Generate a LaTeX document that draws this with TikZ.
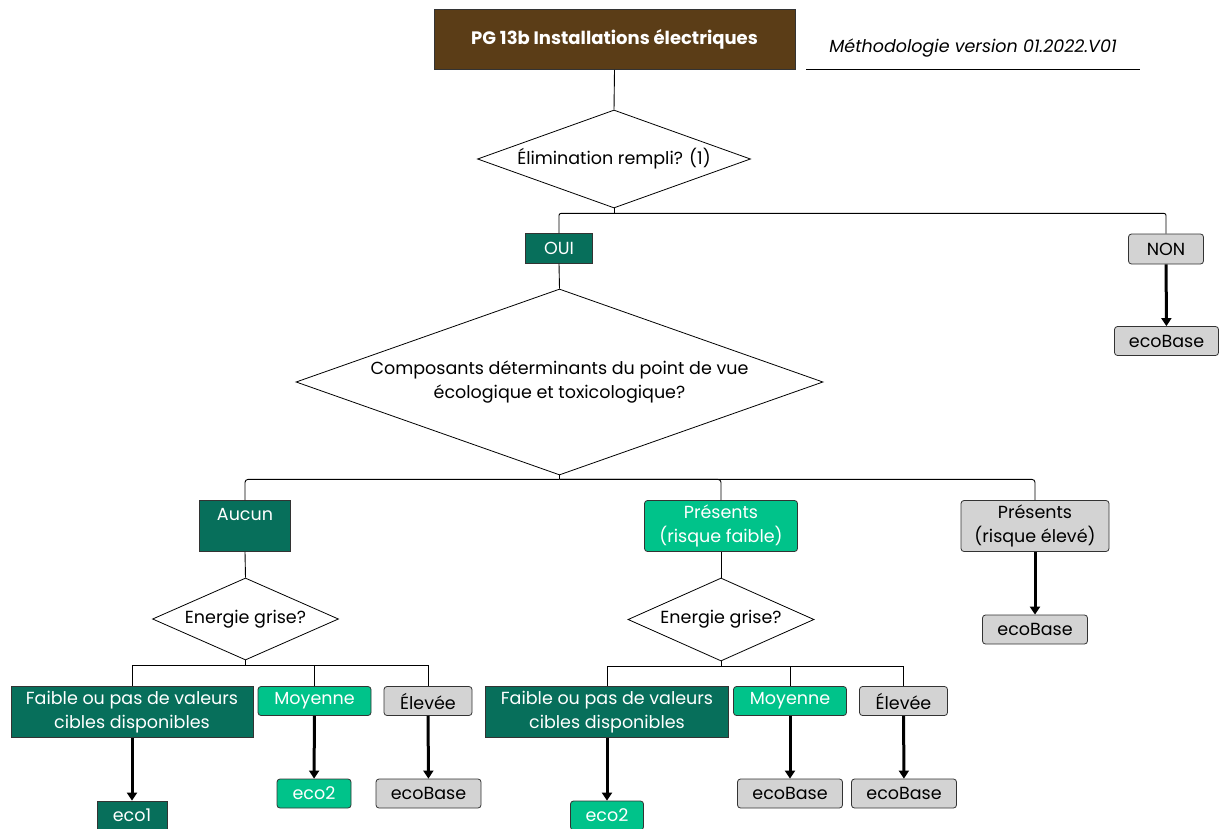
\documentclass[tikz,border=0pt]{standalone}
\usepackage{fontspec}
\setmainfont{Poppins}
\usetikzlibrary{shapes.geometric,arrows.meta}
\definecolor{pgbrown}{RGB}{91,61,23}
\definecolor{ecodark}{RGB}{7,111,91}
\definecolor{ecolight}{RGB}{0,195,138}
\definecolor{ecogray}{RGB}{211,211,211}
\tikzset{
  box/.style={draw=black!80, line width=0.8pt, inner sep=0pt, align=center, font=\fontsize{17.5}{23.5}\selectfont},
  darkbox/.style={box, fill=ecodark, text=white},
  lightbox/.style={box, fill=ecolight, text=white, rounded corners=3pt},
  graybox/.style={box, fill=ecogray, text=black, rounded corners=3pt},
  question/.style={diamond, draw=black, line width=0.8pt, inner sep=0pt, align=center, font=\fontsize{17.5}{23.5}\selectfont},
  tree/.style={draw=black, line width=0.9pt},
  result/.style={draw=black, line width=3pt, -{Triangle[width=10pt,length=8pt]}}
}
\begin{document}
\begin{tikzpicture}[x=1pt, y=-1pt]
			\useasboundingbox (0,0) rectangle (1220,829);
			
			%%%%% HEADER %%%%%
			\node[box, fill=pgbrown, text=white, font=\fontsize{18}{20}\selectfont\bfseries, minimum width=361pt, minimum height=60pt] (title) at (614.5, 39.5) {PG 13b Installations électriques};
			\node[font=\fontsize{17.5}{20}\selectfont\itshape, minimum width=333pt, minimum height=42pt, inner sep=0pt] (meth) at (973, 48) {Méthodologie version 01.2022.V01};
			\draw[line width=0.9pt] (meth.south west) -- (meth.south east);
			
			%%%%% FIRST QUESTION %%%%%
			\node[question, aspect=2.786, minimum width=273pt, minimum height=98pt] (elim) at (614, 159) {Élimination rempli? (1)};
			\node[darkbox, minimum width=67pt, minimum height=30pt] (oui) at (559, 248.5) {OUI};
			\node[graybox, minimum width=75pt, minimum height=30pt] (non) at (1166, 249) {NON};
			\node[graybox, minimum width=104pt, minimum height=29pt] (nonbase) at (1166.5, 341) {ecoBase};
			
			%%%%% SECOND QUESTION %%%%%
			\node[question, aspect=2.833, minimum width=527pt, minimum height=186pt] (comp) at (559.5, 382) {Composants déterminants du point de vue\\écologique et toxicologique?};
			\node[darkbox, minimum width=91pt, minimum height=51pt] (aucun) at (245, 526) {Aucun\\\mbox{}};
			\node[lightbox, minimum width=153pt, minimum height=51pt] (pfaible) at (721, 526) {Présents\\(risque faible)};
			\node[graybox, minimum width=148pt, minimum height=51pt] (peleve) at (1035, 526) {Présents\\(risque élevé)};
			\node[graybox, minimum width=105pt, minimum height=29pt] (pelevebase) at (1035, 629.5) {ecoBase};
			
			%%%%% ENERGIE GRISE, AUCUN %%%%%
			\node[question, aspect=2.27, minimum width=186pt, minimum height=82pt] (ega) at (245.5, 619) {Energie grise?};
			\node[darkbox, minimum width=242pt, minimum height=51pt] (afaible) at (132, 712) {Faible ou pas de valeurs\\cibles disponibles};
			\node[lightbox, minimum width=113pt, minimum height=29pt] (amoy) at (314.5, 701) {Moyenne};
			\node[graybox, minimum width=88pt, minimum height=29pt] (aelev) at (428, 701) {Élevée};
			\node[darkbox, minimum width=70pt, minimum height=29pt] (aeco) at (132, 815.5) {eco1};
			\node[lightbox, minimum width=74pt, minimum height=29pt] (amoyeco) at (314, 793.5) {eco2};
			\node[graybox, minimum width=105pt, minimum height=29pt] (aelevbase) at (428.5, 793.5) {ecoBase};
			
			%%%%% ENERGIE GRISE, RISQUE FAIBLE %%%%%
			\node[question, aspect=2.24, minimum width=186pt, minimum height=83pt] (egb) at (721, 619.5) {Energie grise?};
			\node[darkbox, minimum width=243pt, minimum height=51pt] (bfaible) at (607, 712) {Faible ou pas de valeurs\\cibles disponibles};
			\node[lightbox, minimum width=113pt, minimum height=29pt] (bmoy) at (790, 701) {Moyenne};
			\node[graybox, minimum width=88pt, minimum height=29pt] (belev) at (903.5, 701) {Élevée};
			\node[lightbox, minimum width=73pt, minimum height=29pt] (beco) at (607, 815.5) {eco2};
			\node[graybox, minimum width=105pt, minimum height=29pt] (bmoybase) at (790, 793.5) {ecoBase};
			\node[graybox, minimum width=105pt, minimum height=29pt] (belevbase) at (904, 793.5) {ecoBase};
			
			%%%%% TREE LINES %%%%%
			\draw[tree] (title.south) -- (elim.north);
			\draw[tree] (elim.south) -- ++(0,5) coordinate (j1);
			\foreach \c in {oui,non}
				\draw[tree, rounded corners=2pt] (j1) -| (\c.north);
			\draw[tree] (oui.south) -- (comp.north);
			\draw[tree] (comp.south) -- ++(0,4) coordinate (j2);
			\foreach \c in {aucun,pfaible,peleve}
				\draw[tree, rounded corners=3pt] (j2) -| (\c.north);
			\draw[tree] (aucun.south) -- (ega.north);
			\draw[tree] (pfaible.south) -- (egb.north);
			\draw[tree] (ega.south) -- ++(0,5) coordinate (j3);
			\foreach \c in {afaible,amoy,aelev}
				\draw[tree] (j3) -| (\c.north);
			\draw[tree] (egb.south) -- ++(0,5) coordinate (j4);
			\foreach \c in {bfaible,bmoy,belev}
				\draw[tree] (j4) -| (\c.north);
			
			%%%%% RESULT ARROWS %%%%%
			\draw[result] (non) -- (nonbase);
			\draw[result] (peleve) -- (pelevebase);
			\draw[result] (afaible) -- (aeco);
			\draw[result] (amoy) -- (amoyeco);
			\draw[result] (aelev) -- (aelevbase);
			\draw[result] (bfaible) -- (beco);
			\draw[result] (bmoy) -- (bmoybase);
			\draw[result] (belev) -- (belevbase);
			
\end{tikzpicture}
\end{document}
